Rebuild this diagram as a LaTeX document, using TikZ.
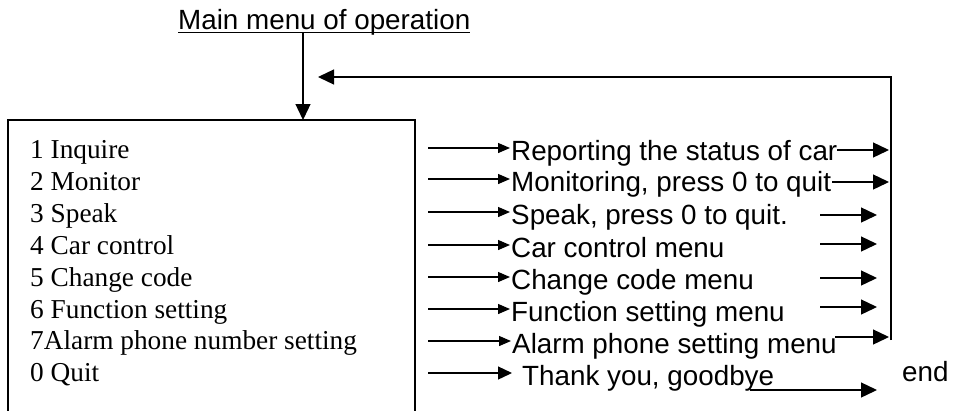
\documentclass[tikz,border=0pt]{standalone}
\usepackage{fontspec}
\setmainfont{Liberation Serif}
\newfontfamily\arial{Liberation Sans}
\usetikzlibrary{arrows.meta}
\begin{document}
\begin{tikzpicture}[x=1pt,y=-1pt,
  arr/.style={line width=1.3pt,-{Triangle[length=16pt,width=15pt]}},
  arrs/.style={line width=1.3pt,-{Triangle[length=12pt,width=10pt]}},
  arrm/.style={line width=1.3pt,-{Triangle[length=14pt,width=13pt]}},
  lefttxt/.style={anchor=base west,inner sep=0pt,font=\fontsize{27.3}{30}\selectfont},
  righttxt/.style={anchor=base west,inner sep=0pt,font=\arial\fontsize{27.8}{30}\selectfont}]
\useasboundingbox (0,0) rectangle (963,410);
% title
\node[anchor=base west,inner sep=0pt,font=\arial\fontsize{27.8}{30}\selectfont] (title) at (178,29) {Main menu of operation};
\draw[line width=1.3pt] ([yshift=-3.5pt]title.base west) -- ([yshift=-3.5pt]title.base east);
% menu box
\draw[line width=1.4pt] (8,412) -- (8,120) -- (415,120) -- (415,412);
\coordinate (mtop) at (303,120);
\draw[arr] (303,33) -- (mtop);
% left items
\node[lefttxt] (i1) at (30,158) {1 Inquire};
\node[lefttxt] (i2) at (30,190) {2 Monitor};
\node[lefttxt] (i3) at (30,222) {3 Speak};
\node[lefttxt] (i4) at (30,254) {4 Car control};
\node[lefttxt] (i5) at (30,286) {5 Change code};
\node[lefttxt] (i6) at (30,318) {6 Function setting};
\node[lefttxt] (i7) at (30,349) {7Alarm phone number setting};
\node[lefttxt] (i0) at (30,381) {0 Quit};
% right texts
\node[righttxt] (r1) at (511,160) {Reporting the status of car};
\node[righttxt] (r2) at (511,191) {Monitoring, press 0 to quit};
\node[righttxt] (r3) at (511,224) {Speak, press 0 to quit.};
\node[righttxt] (r4) at (511,257) {Car control menu};
\node[righttxt] (r5) at (511,289) {Change code menu};
\node[righttxt] (r6) at (511,321) {Function setting menu};
\node[righttxt] (r7) at (512,353) {Alarm phone setting menu};
\node[righttxt] (r0) at (522,385) {Thank you, goodbye};
\node[righttxt] (endn) at (902,381) {end};
% arrows into right texts
\foreach \y/\n in {148/1,179/2,212/3,245/4,277/5,309/6,341/7} {
  \coordinate (s\n) at (428,\y);
  \draw[arrs] (s\n) -- ([xshift=-1pt]s\n -| r\n.west);
}
\coordinate (s0) at (428,373);
\draw[arrm] (s0) -- (512,373);
% arrows out to the return line
\coordinate (t1) at (889,150);
\coordinate (t2) at (889,182);
\draw[arr] (r1.base east |- t1) -- (t1);
\draw[arr] (832,182) -- (t2);
\foreach \y/\n in {215/3,244/4,278/5,307/6} {
  \coordinate (t\n) at (877,\y);
  \draw[arr] (820,\y) -- (t\n);
}
\coordinate (t7) at (889,337);
\draw[arr] (835,337) -- (t7);
\coordinate (t0) at (877,390);
\draw[arr] (750,390) -- (t0);
% return line
\coordinate (back) at (318,77);
\draw[arr] (891,340) -- (891,77) -- (back);
\end{tikzpicture}
\end{document}
